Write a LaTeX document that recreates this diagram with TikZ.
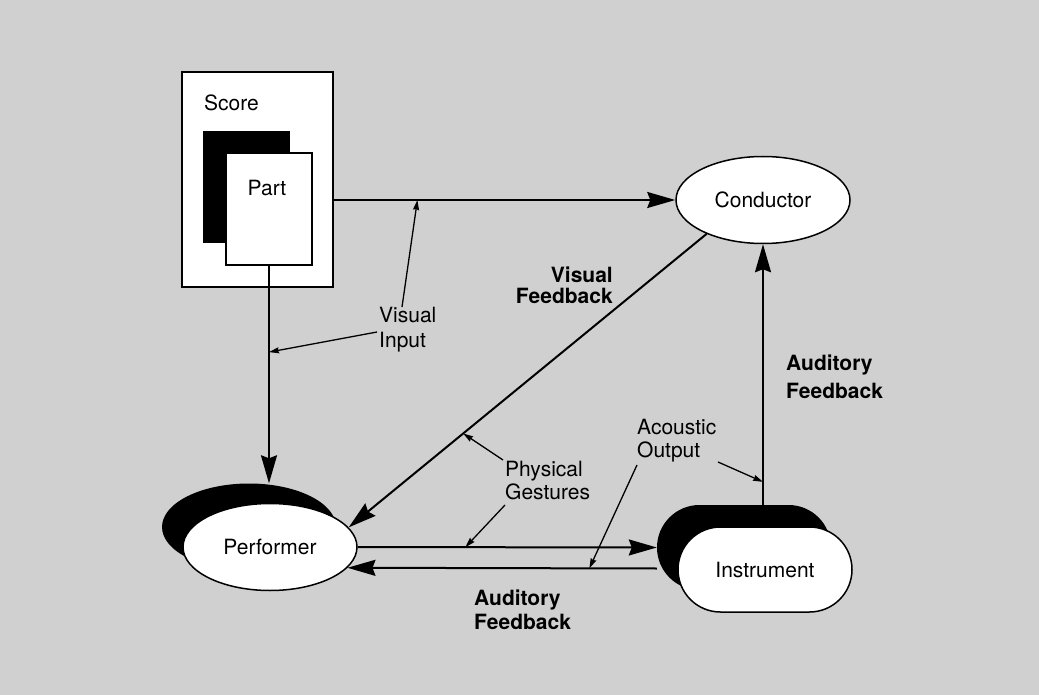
\documentclass[tikz,border=0pt]{standalone}
\usepackage{fontspec}
\setmainfont{TeX Gyre Heros}
\usetikzlibrary{arrows.meta,shapes.geometric,shapes.misc,calc}
\definecolor{bggray}{RGB}{208,208,208}
\tikzset{
  txt/.style={inner sep=0pt,font=\fontsize{21}{24}\selectfont},
  btxt/.style={inner sep=0pt,font=\fontsize{21}{24}\selectfont\bfseries},
  bigarrow/.style={line width=2pt,-{Stealth[length=28pt,width=16pt,inset=3pt]}},
  ptr/.style={line width=1.3pt,-{Stealth[length=10pt,width=6pt,inset=1pt]}},
  ovalnode/.style={ellipse,draw,line width=1.5pt,fill=white,minimum width=174pt,minimum height=87pt,inner sep=0pt,font=\fontsize{21}{24}\selectfont},
  ovalshadow/.style={ellipse,fill=black,minimum width=174pt,minimum height=87pt,inner sep=0pt},
  pillnode/.style={rounded rectangle,draw,line width=1.5pt,fill=white,minimum width=174pt,minimum height=85pt,inner sep=0pt,font=\fontsize{21}{24}\selectfont},
  pillshadow/.style={rounded rectangle,fill=black,minimum width=174pt,minimum height=85pt,inner sep=0pt},
}
\begin{document}
\begin{tikzpicture}[x=1pt,y=-1pt]
\useasboundingbox (0,0) rectangle (1039,695);
\fill[bggray] (0,0) rectangle (1039,695);

% Score box
\node[draw,line width=1.5pt,fill=white,minimum width=151pt,minimum height=215pt,inner sep=0pt] (score) at (257.5,179.5) {};
\node[txt,anchor=west] (scoretxt) at (204,103) {Score};
\node[fill=black,minimum width=87pt,minimum height=112pt,inner sep=0pt] (partsh) at (246.5,187) {};
\node[draw,line width=1.5pt,fill=white,minimum width=86pt,minimum height=112pt,inner sep=0pt] (part) at (269,209) {};
\node[txt] (parttxt) at (267,188) {Part};

% Conductor
\node[ovalnode] (cond) at (763,200) {Conductor};

% Performer
\node[ovalshadow] (perfsh) at (249,527) {};
\node[ovalnode] (perf) at (270,547) {Performer};

% Instrument
\node[pillshadow] (instsh) at (744,547.5) {};
\node[pillnode] (inst) at (765,569.5) {Instrument};

% Main connectors
\draw[bigarrow] (cond.west -| score.east) -- coordinate[pos=0.245] (vi1) (cond.west);
\draw[bigarrow] (part.south) -- coordinate[pos=0.397] (vi2) (part.south |- perfsh.north);
\draw[bigarrow] (cond.211) -- coordinate[pos=0.68] (vfb) (perf.14);
\draw[bigarrow] (cond.south |- instsh.north) -- coordinate[pos=0.088] (afv) (cond.south);
\draw[bigarrow] (perf.east) -- coordinate[pos=0.36] (pg2) (instsh.west);
\draw[bigarrow] ([yshift=-21pt]instsh.west) -- coordinate[pos=0.218] (ao1) (perf.-15);

% Labels
\node[btxt,align=right,anchor=east,font=\fontsize{21}{21}\selectfont\bfseries] (vfl) at (613,285) {Visual\\Feedback};
\node[txt,align=left,anchor=west,font=\fontsize{21}{25}\selectfont] (vil) at (379,330) {Visual\\Input};
\node[txt,align=left,anchor=west,font=\fontsize{21}{23}\selectfont] (pgl) at (505,481) {Physical\\Gestures};
\node[txt,align=left,anchor=west,font=\fontsize{21}{23}\selectfont] (aol) at (637,441) {Acoustic\\Output};
\node[btxt,align=left,anchor=west] (afb) at (474,610) {Auditory\\Feedback};
\node[btxt,align=left,anchor=west,font=\fontsize{21}{28}\selectfont\bfseries] (afr) at (786,377) {Auditory\\Feedback};

% Pointers
\coordinate (viA) at (402,307);
\coordinate (viB) at (377,332);
\draw[ptr] (viA) -- (vi1);
\draw[ptr] (viB) -- (vi2);
\coordinate (pgA) at (503,460);
\coordinate (pgB) at (505,505);
\draw[ptr] (pgA) -- (vfb);
\draw[ptr] (pgB) -- (pg2);
\coordinate (aoA) at (637,465);
\coordinate (aoB) at (718,462);
\draw[ptr] (aoA) -- (ao1);
\draw[ptr] (aoB) -- (afv);
\end{tikzpicture}
\end{document}
